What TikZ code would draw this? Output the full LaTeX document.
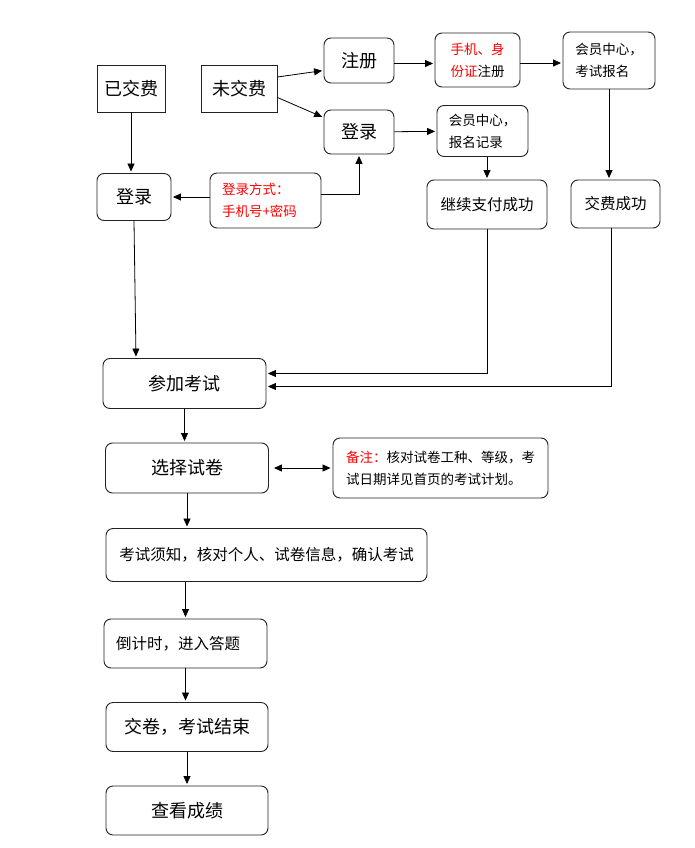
\documentclass[tikz,border=0pt]{standalone}
\usepackage{fontspec}
\setmainfont{Noto Sans CJK SC}
\usetikzlibrary{
  arrows.meta,
  positioning,
  calc
}
\definecolor{tipred}{HTML}{FF0000}
\definecolor{edgegray}{HTML}{222222}

\begin{document}
\begin{tikzpicture}[
  x=1pt, y=-1pt,
  box/.style={draw=edgegray, rounded corners=7pt, line width=0.9pt, inner sep=2pt,
    align=center},
  sqbox/.style={draw=edgegray, line width=0.9pt, inner sep=2pt, align=center},
  big/.style={font=\fontsize{18}{22}\selectfont},
  mid/.style={font=\fontsize{15.5}{22}\selectfont},
  small/.style={font=\fontsize{13.5}{22}\selectfont},
  arrow/.style={-{Triangle[length=8pt,width=7pt]}, line width=0.8pt, shorten >=1.5pt},
  dblarrow/.style={{Triangle[length=8pt,width=7pt]}-{Triangle[length=8pt,width=7pt]},
    line width=0.8pt, shorten <=5pt, shorten >=2pt}
]
  \useasboundingbox (0,0) rectangle (694,848);

  % --- Payment state ---
  \node[sqbox, big, minimum width=68, minimum height=47] (paid) at (131,88.5) {已交费};
  \node[sqbox, big, minimum width=76, minimum height=47] (unpaid) at (239,88.5) {未交费};

  % --- Register / login branch ---
  \node[box, big, minimum width=70, minimum height=45] (reg) at (359,60.5) {注册};
  \node[box, big, minimum width=70, minimum height=44] (login) at (359,132) {登录};
  \node[box, small, minimum width=85, minimum height=54] (phone) at (477.5,60)
    {\textcolor{tipred}{手机、身}\\\textcolor{tipred}{份证}注册};
  \node[box, small, align=left, minimum width=92, minimum height=57] (member) at (609,60.5)
    {会员中心，\\考试报名};
  \node[box, small, align=left, minimum width=91, minimum height=51] (record) at (482.5,131)
    {会员中心，\\报名记录};
  \node[box, mid, minimum width=120, minimum height=49] (contpay) at (487,204.5) {继续支付成功};
  \node[box, mid, minimum width=89, minimum height=48] (feeok) at (615.5,204) {交费成功};
  \node[box, big, minimum width=74, minimum height=47] (loginL) at (134,197) {登录};
  \node[box, small, text=tipred, align=left, text width=87, inner xsep=12,
    minimum height=55] (way) at (265.5,200.5) {登录方式：\\手机号+密码};

  % --- Exam steps ---
  \node[box, big, minimum width=163, minimum height=50] (join) at (184.5,383.5) {参加考试};
  \node[box, big, minimum width=163, minimum height=50] (select) at (187,468) {选择试卷};
  \node[box, small, align=left, minimum width=215, minimum height=60] (note) at (440.5,468)
    {\textcolor{tipred}{备注：}核对试卷工种、等级，考\\试日期详见首页的考试计划。};
  \node[box, mid, minimum width=321, minimum height=53] (notice) at (266.5,555)
    {考试须知，核对个人、试卷信息，确认考试};
  \node[box, mid, align=left, text width=139, inner xsep=12, minimum height=49] (count)
    at (185.5,643.5) {倒计时，进入答题};
  \node[box, big, minimum width=162, minimum height=49] (submit) at (187,727) {交卷，考试结束};
  \node[box, big, minimum width=162, minimum height=49] (score) at (187,810.5) {查看成绩};

  % --- Arrows: top ---
  \draw[arrow] (paid.south) -- (paid.south |- loginL.north);
  \draw[arrow] ([yshift=11.5pt]unpaid.east) -- ([yshift=-10pt]reg.west);
  \draw[arrow] ([yshift=-9pt]unpaid.east) -- ([yshift=14.5pt]login.west);
  \draw[arrow] ([yshift=-3pt]reg.east) -- ([yshift=-3pt]reg.east -| phone.west);
  \draw[arrow] ([yshift=-3pt]phone.east) -- ([yshift=-3pt]phone.east -| member.west);
  \draw[arrow] (member.south) -- (member.south |- feeok.north);
  \draw[arrow] (login) -- (record);
  \draw[arrow] (contpay.north |- record.south) -- (contpay.north);
  \draw[arrow] ([yshift=6pt]way.east) -| (login.south);
  \draw[arrow] (way.west |- loginL) -- (loginL.east);

  % --- Arrows: into the exam ---
  \draw[arrow] (loginL.south) -- ([xshift=2pt]loginL.south |- join.north);
  \draw[arrow] (contpay.south) |- ([yshift=10pt]join.east);
  \draw[arrow] ([xshift=-4pt]feeok.south) |- ([yshift=-3pt]join.east);

  % --- Arrows: exam steps ---
  \draw[arrow] (join.south) -- (join.south |- select.north);
  \draw[dblarrow] (select.east) -- (select.east -| note.west);
  \draw[arrow] (select.south) -- (select.south |- notice.north);
  \draw[arrow] (count.north |- notice.south) -- (count.north);
  \draw[arrow] (count.south) -- (count.south |- submit.north);
  \draw[arrow] (submit.south) -- (submit.south |- score.north);
\end{tikzpicture}
\end{document}
